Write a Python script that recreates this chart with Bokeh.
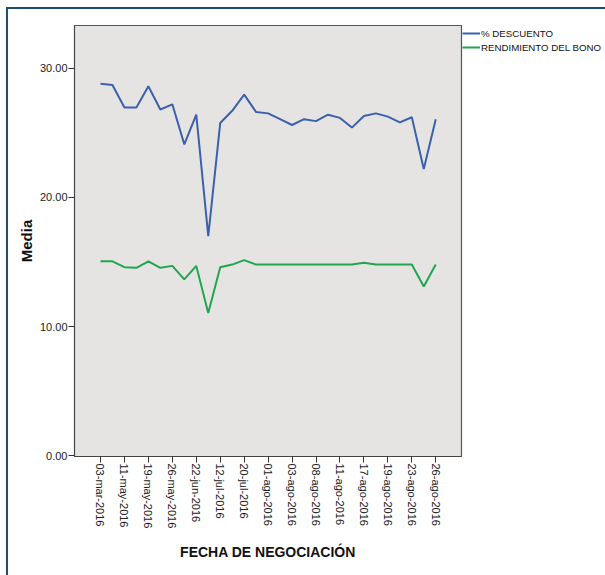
import math
from bokeh.plotting import figure
from bokeh.models import FixedTicker, Legend, LegendItem, Range1d
from bokeh.embed import file_html
from bokeh.resources import INLINE

fechas = ["03-mar-2016", "", "11-may-2016", "", "19-may-2016", "", "26-may-2016", "",
          "22-jun-2016", "", "12-jul-2016", "", "20-jul-2016", "", "01-ago-2016", "",
          "03-ago-2016", "", "08-ago-2016", "", "11-ago-2016", "", "17-ago-2016", "",
          "19-ago-2016", "", "23-ago-2016", "", "26-ago-2016"]

descuento = [28.8, 28.7, 26.95, 26.95, 28.6, 26.8, 27.2, 24.1, 26.4, 17.0,
             25.75, 26.7, 27.95, 26.6, 26.5, 26.05, 25.6, 26.05, 25.9, 26.4,
             26.15, 25.4, 26.3, 26.5, 26.25, 25.8, 26.2, 22.2, 26.05]

rendimiento = [15.05, 15.05, 14.6, 14.55, 15.05, 14.55, 14.7, 13.65, 14.7, 11.05,
               14.6, 14.8, 15.15, 14.8, 14.8, 14.8, 14.8, 14.8, 14.8, 14.8,
               14.8, 14.8, 14.95, 14.8, 14.8, 14.8, 14.8, 13.1, 14.8]

y_ticks = [0, 10, 20, 30]

xs = list(range(len(fechas)))
tick_pos = [i for i, f in enumerate(fechas) if f]

FONT = "Liberation Sans"

p = figure(frame_width=387, frame_height=431,
           min_border_left=66, min_border_top=16, min_border_right=10, min_border_bottom=119,
           x_range=Range1d(-2.17, 30.15), y_range=Range1d(-0.05, 33.3),
           output_backend="svg", toolbar_location=None,
           background_fill_color="#e6e4e3", border_fill_color="white")

p.styles = {"border-left": "2px solid #1b4f7a", "border-top": "2px solid #1b4f7a",
            "margin-left": "6px", "margin-top": "7px"}

p.grid.visible = False
p.outline_line_color = "#555555"
p.outline_line_width = 1.2

r1 = p.line(xs, descuento, line_color="#3b60ad", line_width=2)
r2 = p.line(xs, rendimiento, line_color="#1fa64e", line_width=2)

# y axis
p.yaxis.ticker = FixedTicker(ticks=y_ticks)
p.yaxis.major_label_overrides = {t: f"{t:.2f}" for t in y_ticks}
p.yaxis.minor_tick_line_color = None
p.yaxis.major_tick_in = 0
p.yaxis.major_tick_out = 6
p.yaxis.major_label_standoff = 1
p.yaxis.axis_label = "Media"
p.yaxis.axis_label_text_font = FONT
p.yaxis.axis_label_text_font_style = "bold"
p.yaxis.axis_label_text_font_size = "15px"
p.yaxis.axis_label_text_color = "#111111"
p.yaxis.axis_label_standoff = 2

# x axis
p.xaxis.ticker = FixedTicker(ticks=tick_pos)
p.xaxis.major_label_overrides = {i: fechas[i] for i in tick_pos}
p.xaxis.minor_tick_line_color = None
p.xaxis.major_tick_in = 0
p.xaxis.major_tick_out = 6
p.xaxis.major_label_standoff = 1
p.xaxis.major_label_orientation = -math.pi / 2
p.xaxis.axis_label = "FECHA DE NEGOCIACIÓN"
p.xaxis.axis_label_text_font = FONT
p.xaxis.axis_label_text_font_style = "bold"
p.xaxis.axis_label_text_font_size = "14px"
p.xaxis.axis_label_text_color = "#111111"
p.xaxis.axis_label_standoff = 13

for ax in (p.xaxis, p.yaxis):
    ax.axis_line_color = "#444444"
    ax.major_tick_line_color = "#333333"
    ax.major_label_text_font = FONT
    ax.major_label_text_font_size = "11px"
    ax.major_label_text_color = "#222222"

legend = Legend(items=[LegendItem(label="% DESCUENTO", renderers=[r1]),
                       LegendItem(label="RENDIMIENTO DEL BONO", renderers=[r2])],
                location=(1, 402), padding=0, margin=0, spacing=0,
                glyph_width=18, glyph_height=14, label_height=14, label_standoff=1,
                label_text_font=FONT, label_text_font_size="9.7px",
                label_text_color="#111111",
                background_fill_alpha=0, border_line_alpha=0)
p.add_layout(legend, "right")

open("out.html", "w").write(file_html(p, INLINE))
